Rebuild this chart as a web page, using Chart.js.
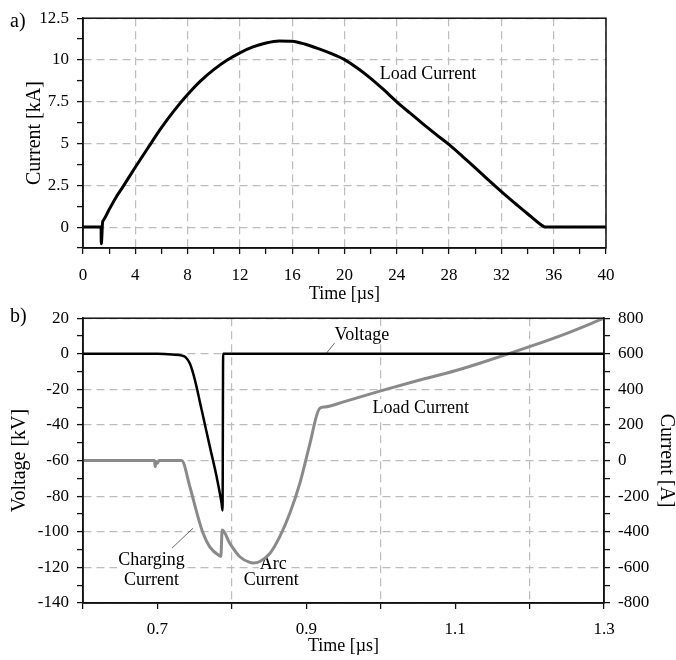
<!DOCTYPE html>
<html>
<head>
<meta charset="utf-8">
<script src="https://cdn.jsdelivr.net/npm/chart.js@4.4.1/dist/chart.umd.min.js"></script>
<style>
  body { margin: 0; background: #fff; width: 676px; height: 660px; position: relative; overflow: hidden; font-family: "Liberation Serif", serif; }
  .wrap { position: absolute; left: 0; width: 676px; }
  #wrapA { top: 0; height: 310px; }
  #wrapB { top: 300px; height: 360px; }
  .tag { position: absolute; font-size: 20px; line-height: 1; color: #000; }
</style>
</head>
<body>
<div class="wrap" id="wrapA"><canvas id="chartA"></canvas></div>
<div class="wrap" id="wrapB"><canvas id="chartB"></canvas></div>
<div class="tag" style="left:10px;top:10px">a)</div>
<div class="tag" style="left:10px;top:305px">b)</div>
<script>
// a) load current, kA over µs
const timeA = [0, 1.38, 1.4, 1.5, 1.56, 2, 2.53, 3, 4, 5, 6, 7, 8, 9, 10, 11, 12, 13, 14, 15, 16, 17, 18, 19, 20, 21, 22, 23, 24, 25, 26, 27, 28, 29, 30, 31, 32, 33, 34, 34.8, 35.4, 40];
const currentA = [0, 0, -1.0, 0.3, 0.4, 1.05, 1.79, 2.35, 3.58, 4.78, 5.95, 7.0, 7.93, 8.75, 9.42, 9.98, 10.43, 10.78, 11.02, 11.14, 11.12, 10.94, 10.68, 10.38, 10.02, 9.5, 8.9, 8.22, 7.5, 6.83, 6.18, 5.55, 4.93, 4.25, 3.55, 2.82, 2.12, 1.45, 0.8, 0.28, 0, 0];

// b) voltage (kV) and current (A) over µs
const timeV = [0.6, 0.7, 0.72, 0.733, 0.738, 0.7436, 0.748, 0.7526, 0.757, 0.7615, 0.7705, 0.7795, 0.7862, 0.7875, 0.7883, 1.3];
const voltage = [0, 0, -0.4, -1.0, -2.0, -5.4, -11, -18.6, -27, -35.4, -52.3, -69, -84, -88, 0, 0];

const timeI = [0.6, 0.696, 0.697, 0.698, 0.7, 0.702, 0.7325, 0.7436, 0.7526, 0.7615, 0.7705, 0.7839, 0.7852, 0.787, 0.7973, 0.8107, 0.8242, 0.8286, 0.8376, 0.851, 0.8644, 0.8779, 0.8913, 0.904, 0.918, 0.925, 0.95, 1.0, 1.05, 1.1, 1.133, 1.2, 1.25, 1.3];
const currentB = [0, 0, -35, -5, -15, 0, 0, -147, -288, -410, -486, -536, -538, -390, -465, -540, -572, -575, -567, -522, -427, -296, -128, 80, 293, 301, 330, 392, 450, 505, 547, 640, 715, 800];

const axisCol = '#111';
const gridGray = '#bdbdbd';
const serif = '"Liberation Serif", serif';

Chart.defaults.font.family = serif;
Chart.defaults.font.size = 17;
Chart.defaults.color = '#000';

function isMul(v, step) {
  return Math.abs(v / step - Math.round(v / step)) < 1e-6;
}

function points(xs, ys) {
  return xs.map(function(x, i) { return {x: x, y: ys[i]}; });
}

// plot frame around the chart area
const frame = {
  id: 'frame',
  afterDatasetsDraw(chart) {
    const ctx = chart.ctx, a = chart.chartArea;
    ctx.save();
    ctx.strokeStyle = axisCol;
    ctx.lineWidth = 1.5;
    ctx.strokeRect(a.left, a.top, a.right - a.left, a.bottom - a.top);
    ctx.restore();
  }
};

// text labels (under the curves) and leader lines, placed in data units
const notes = {
  id: 'notes',
  beforeDatasetsDraw(chart, args, opts) {
    const ctx = chart.ctx, xs = chart.scales.x;
    ctx.save();
    ctx.font = '18px ' + serif;
    ctx.textBaseline = 'middle';
    ctx.textAlign = 'left';
    (opts.labels || []).forEach(function(l) {
      const ys = chart.scales[l.axis || 'y'];
      const px = xs.getPixelForValue(l.x), py = ys.getPixelForValue(l.y);
      const w = ctx.measureText(l.text).width;
      const left = l.align === 'center' ? px - w / 2 : px;
      ctx.fillStyle = '#fff';
      ctx.fillRect(left - 1, py - 9, w + 2, 18);
      ctx.fillStyle = '#000';
      ctx.fillText(l.text, left, py);
    });
    ctx.strokeStyle = '#666';
    ctx.lineWidth = 1;
    (opts.leaders || []).forEach(function(l) {
      const ys = chart.scales[l.axis || 'y'];
      ctx.beginPath();
      ctx.moveTo(xs.getPixelForValue(l.x1), ys.getPixelForValue(l.y1));
      ctx.lineTo(xs.getPixelForValue(l.x2), ys.getPixelForValue(l.y2));
      ctx.stroke();
    });
    ctx.restore();
  }
};

function axis(opts) {
  return {
    type: 'linear',
    position: opts.position,
    min: opts.min,
    max: opts.max,
    grid: {
      color: function(c) { return opts.grid && isMul(c.tick.value, opts.major) ? gridGray : 'transparent'; },
      drawOnChartArea: !!opts.grid,
      tickColor: axisCol,
      tickLength: 6,
      tickWidth: 1.3,
      lineWidth: 1.2
    },
    border: {color: axisCol, width: 1.5, dash: [8, 5]},
    ticks: {
      stepSize: opts.step,
      autoSkip: false,
      maxRotation: 0,
      padding: opts.pad,
      callback: opts.label
    },
    title: opts.title,
    afterFit: opts.fit
  };
}

function generateChart(id, datasets, scales, pad, labels, leaders) {
  return new Chart(document.getElementById(id), {
    type: 'line',
    data: {datasets: datasets},
    options: {
      responsive: true,
      maintainAspectRatio: false,
      animation: false,
      layout: {padding: pad},
      plugins: {
        legend: {display: false},
        tooltip: {enabled: false},
        notes: {labels: labels, leaders: leaders}
      },
      scales: scales
    },
    plugins: [notes, frame]
  });
}

generateChart('chartA', [{
    data: points(timeA, currentA),
    borderColor: '#000',
    borderWidth: 3,
    pointRadius: 0,
    cubicInterpolationMode: 'monotone'
  }], {
    x: axis({min: 0, max: 40, step: 2, major: 4, grid: true, pad: 11,
      label: function(v) { return isMul(v, 4) ? String(v) : ''; },
      title: {display: true, text: 'Time [µs]', font: {size: 18}, padding: {top: 0, bottom: 5}},
      fit: function(s) { s.height = 62; }}),
    y: axis({position: 'left', min: -1.25, max: 12.5, step: 1.25, major: 2.5, grid: true, pad: 8,
      label: function(v) { return v >= 0 && isMul(v, 2.5) ? String(v) : ''; },
      title: {display: true, text: 'Current [kA]', font: {size: 20}, padding: {top: 23, bottom: 0}},
      fit: function(s) { s.width = 83; }})
  }, {top: 17, right: 70, left: 0, bottom: 0},
  [{text: 'Load Current', x: 22.7, y: 9.15}], []);

generateChart('chartB', [{
    data: points(timeV, voltage),
    yAxisID: 'y',
    borderColor: '#000',
    borderWidth: 2.5,
    pointRadius: 0,
    cubicInterpolationMode: 'monotone'
  }, {
    data: points(timeI, currentB),
    yAxisID: 'y1',
    borderColor: '#8a8a8a',
    borderWidth: 3,
    pointRadius: 0,
    cubicInterpolationMode: 'monotone'
  }], {
    x: axis({min: 0.6, max: 1.3, step: 0.1, major: 0.2, grid: true, pad: 10,
      label: function(v) { return Math.round(v * 10) % 2 === 1 ? v.toFixed(1) : ''; },
      title: {display: true, text: 'Time [µs]', font: {size: 18}, padding: {top: 0, bottom: 3}},
      fit: function(s) { s.height = 57; }}),
    y: axis({position: 'left', min: -140, max: 20, step: 10, major: 20, grid: true, pad: 8,
      label: function(v) { return isMul(v, 20) ? String(v) : ''; },
      title: {display: true, text: 'Voltage [kV]', font: {size: 20}, padding: {top: 8, bottom: 0}},
      fit: function(s) { s.width = 83; }}),
    y1: axis({position: 'right', min: -800, max: 800, step: 100, major: 200, grid: false, pad: 8,
      label: function(v) { return isMul(v, 200) ? String(v) : ''; },
      title: {display: true, text: 'Current [A]', font: {size: 20, lineHeight: 1}, padding: {top: 0, bottom: 0}},
      fit: function(s) { s.width = 72; }})
  }, {top: 18, right: 0, left: 0, bottom: 0},
  [
    {text: 'Voltage', x: 0.938, y: 10.5},
    {text: 'Load Current', x: 0.989, y: -30.5},
    {text: 'Charging', x: 0.692, y: -115.9, align: 'center'},
    {text: 'Current', x: 0.692, y: -127, align: 'center'},
    {text: 'Arc', x: 0.8557, y: -118.1, align: 'center'},
    {text: 'Current', x: 0.853, y: -127.1, align: 'center'}
  ],
  [
    {x1: 0.927, y1: 0.3, x2: 0.938, y2: 6},
    {x1: 0.7195, y1: -109.2, x2: 0.7477, y2: -98}
  ]);
</script>
</body>
</html>
